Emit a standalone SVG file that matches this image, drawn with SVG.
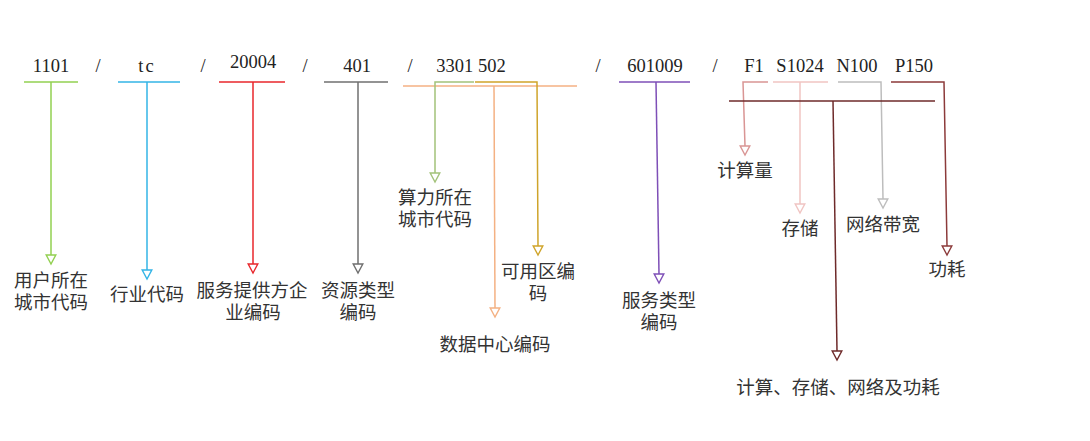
<svg xmlns="http://www.w3.org/2000/svg" xmlns:xlink="http://www.w3.org/1999/xlink" width="1090" height="441" viewBox="0 0 1090 441">
<style>
.code{font-family:"Liberation Serif","Noto Sans CJK SC",serif;font-size:18.5px;fill:#222;text-anchor:middle}
.sl{font-family:"Liberation Serif",serif;font-size:18.5px;fill:#222;text-anchor:middle}
.lbl{font-family:"Liberation Serif","Noto Sans CJK SC",sans-serif;font-size:18.5px;fill:#333;text-anchor:middle}
.c line,.c polyline{stroke-width:1.5;fill:none}
</style>
<defs>
<path id="tri" d="M-4.8,-9 L4.8,-9 L0,0 Z" fill="#fff" stroke-width="1.4"/>
</defs>
<rect width="1090" height="441" fill="#fff"/>

<g id="codes">
<text class="code" x="51" y="72">1101</text>
<text class="sl" x="98" y="72">/</text>
<text class="code" x="147" y="72" letter-spacing="2">tc</text>
<text class="sl" x="203" y="72">/</text>
<text class="code" x="253" y="68">20004</text>
<text class="sl" x="305" y="72">/</text>
<text class="code" x="357" y="72">401</text>
<text class="sl" x="410" y="72">/</text>
<text class="code" x="471" y="72">3301 502</text>
<text class="sl" x="598" y="72">/</text>
<text class="code" x="655" y="72">601009</text>
<text class="sl" x="715" y="72">/</text>
<text class="code" x="754" y="72">F1</text>
<text class="code" x="800" y="72">S1024</text>
<text class="code" x="857" y="72">N100</text>
<text class="code" x="914" y="72">P150</text>
</g>

<g id="connectors" class="c">
<g stroke="#92d050"><line x1="24" y1="82" x2="78" y2="82"/><line x1="51" y1="82" x2="51" y2="255"/><use href="#tri" x="51" y="264"/></g>
<g stroke="#33b4e6"><line x1="118" y1="82" x2="180" y2="82"/><line x1="147" y1="82" x2="147" y2="270"/><use href="#tri" x="147" y="279"/></g>
<g stroke="#e8262b"><line x1="219" y1="82" x2="285" y2="82"/><line x1="253" y1="82" x2="253" y2="264"/><use href="#tri" x="253" y="273"/></g>
<g stroke="#6f6f6f"><line x1="324" y1="82" x2="388" y2="82"/><line x1="358" y1="82" x2="358" y2="264"/><use href="#tri" x="358" y="273"/></g>
<g stroke="#f4b183"><line x1="403" y1="86" x2="577" y2="86"/><line x1="494" y1="86" x2="495" y2="308"/><use href="#tri" x="495" y="317"/></g>
<g stroke="#a3c27a"><polyline points="474,82 435,82 435,173"/><use href="#tri" x="435" y="182"/></g>
<g stroke="#cfa42a"><polyline points="475,82 537,82 538,246"/><use href="#tri" x="538" y="255"/></g>
<g stroke="#7e4fb7"><line x1="619" y1="82" x2="690" y2="82"/><line x1="656" y1="82" x2="659" y2="274"/><use href="#tri" x="659" y="283"/></g>
<g stroke="#d99594"><polyline points="768,82 743,82 745,146"/><use href="#tri" x="745" y="155"/></g>
<g stroke="#f0c4c2"><line x1="773" y1="82" x2="828" y2="82"/><line x1="800" y1="82" x2="800" y2="204"/><use href="#tri" x="800" y="213"/></g>
<g stroke="#bdbdbd"><polyline points="838,82 881,82 883,199"/><use href="#tri" x="883" y="208"/></g>
<g stroke="#8c3a3a"><polyline points="891,82 944,82 947,246"/><use href="#tri" x="947" y="255"/></g>
<g stroke="#6e2a2a"><line x1="729" y1="101" x2="935" y2="101"/><line x1="833" y1="101" x2="837" y2="351"/><use href="#tri" x="837" y="360"/></g>
</g>

<g id="n-user-city"><text class="lbl" x="51" y="287">用户所在</text><text class="lbl" x="51" y="309">城市代码</text></g>
<g id="n-industry"><text class="lbl" x="147" y="301">行业代码</text></g>
<g id="n-provider"><text class="lbl" x="252" y="297">服务提供方企</text><text class="lbl" x="253" y="319">业编码</text></g>
<g id="n-resource"><text class="lbl" x="358" y="297">资源类型</text><text class="lbl" x="358" y="319">编码</text></g>
<g id="n-compute-city"><text class="lbl" x="435" y="204">算力所在</text><text class="lbl" x="435" y="226">城市代码</text></g>
<g id="n-az"><text class="lbl" x="538" y="278">可用区编</text><text class="lbl" x="538" y="300">码</text></g>
<g id="n-dc"><text class="lbl" x="495" y="351">数据中心编码</text></g>
<g id="n-service"><text class="lbl" x="659" y="307">服务类型</text><text class="lbl" x="659" y="329">编码</text></g>
<g id="n-compute"><text class="lbl" x="745" y="177">计算量</text></g>
<g id="n-storage"><text class="lbl" x="800" y="235">存储</text></g>
<g id="n-network"><text class="lbl" x="883" y="231">网络带宽</text></g>
<g id="n-power"><text class="lbl" x="947" y="276">功耗</text></g>
<g id="n-all"><text class="lbl" x="838" y="394">计算、存储、网络及功耗</text></g>
</svg>
